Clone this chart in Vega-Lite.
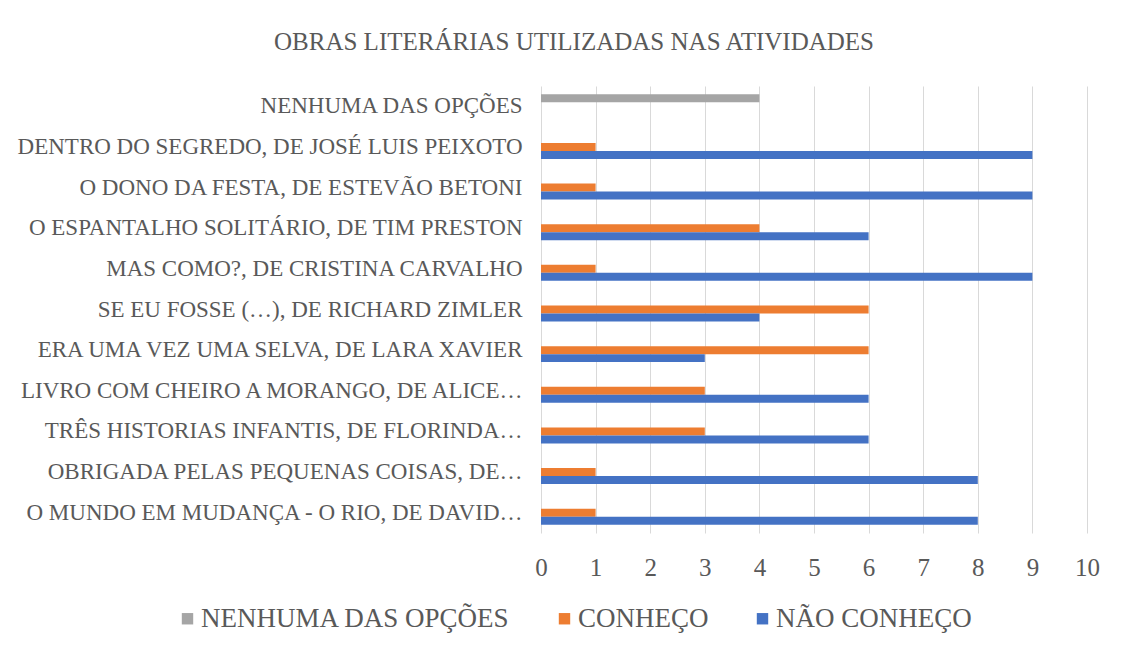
{
  "$schema": "https://vega.github.io/schema/vega-lite/v6.json",
  "width": 546,
  "height": 447,
  "autosize": {"type": "none"},
  "padding": {"left": 541, "top": 86, "right": 39, "bottom": 113},
  "background": "white",
  "title": {
    "text": "OBRAS LITERÁRIAS UTILIZADAS NAS ATIVIDADES",
    "font": "Liberation Serif",
    "fontSize": 25,
    "fontWeight": "normal",
    "color": "#595959",
    "anchor": "middle",
    "dx": -240,
    "offset": 31
  },
  "data": {
    "values": [
      {"obra": "NENHUMA DAS OPÇÕES", "serie": "NENHUMA DAS OPÇÕES", "valor": 4},
      {"obra": "DENTRO DO SEGREDO, DE JOSÉ LUIS PEIXOTO", "serie": "CONHEÇO", "valor": 1},
      {"obra": "DENTRO DO SEGREDO, DE JOSÉ LUIS PEIXOTO", "serie": "NÃO CONHEÇO", "valor": 9},
      {"obra": "O DONO DA FESTA, DE ESTEVÃO BETONI", "serie": "CONHEÇO", "valor": 1},
      {"obra": "O DONO DA FESTA, DE ESTEVÃO BETONI", "serie": "NÃO CONHEÇO", "valor": 9},
      {"obra": "O ESPANTALHO SOLITÁRIO, DE TIM PRESTON", "serie": "CONHEÇO", "valor": 4},
      {"obra": "O ESPANTALHO SOLITÁRIO, DE TIM PRESTON", "serie": "NÃO CONHEÇO", "valor": 6},
      {"obra": "MAS COMO?, DE CRISTINA CARVALHO", "serie": "CONHEÇO", "valor": 1},
      {"obra": "MAS COMO?, DE CRISTINA CARVALHO", "serie": "NÃO CONHEÇO", "valor": 9},
      {"obra": "SE EU FOSSE (…), DE RICHARD ZIMLER", "serie": "CONHEÇO", "valor": 6},
      {"obra": "SE EU FOSSE (…), DE RICHARD ZIMLER", "serie": "NÃO CONHEÇO", "valor": 4},
      {"obra": "ERA UMA VEZ UMA SELVA, DE LARA XAVIER", "serie": "CONHEÇO", "valor": 6},
      {"obra": "ERA UMA VEZ UMA SELVA, DE LARA XAVIER", "serie": "NÃO CONHEÇO", "valor": 3},
      {"obra": "LIVRO COM CHEIRO A MORANGO, DE ALICE…", "serie": "CONHEÇO", "valor": 3},
      {"obra": "LIVRO COM CHEIRO A MORANGO, DE ALICE…", "serie": "NÃO CONHEÇO", "valor": 6},
      {"obra": "TRÊS HISTORIAS INFANTIS, DE FLORINDA…", "serie": "CONHEÇO", "valor": 3},
      {"obra": "TRÊS HISTORIAS INFANTIS, DE FLORINDA…", "serie": "NÃO CONHEÇO", "valor": 6},
      {"obra": "OBRIGADA PELAS PEQUENAS COISAS, DE…", "serie": "CONHEÇO", "valor": 1},
      {"obra": "OBRIGADA PELAS PEQUENAS COISAS, DE…", "serie": "NÃO CONHEÇO", "valor": 8},
      {"obra": "O MUNDO EM MUDANÇA - O RIO, DE DAVID…", "serie": "CONHEÇO", "valor": 1},
      {"obra": "O MUNDO EM MUDANÇA - O RIO, DE DAVID…", "serie": "NÃO CONHEÇO", "valor": 8}
    ]
  },
  "mark": {"type": "bar"},
  "encoding": {
    "y": {
      "field": "obra",
      "type": "nominal",
      "sort": null,
      "scale": {"paddingInner": 0.41, "paddingOuter": 0.205},
      "axis": {
        "title": null,
        "domain": false,
        "ticks": false,
        "labelFont": "Liberation Serif",
        "labelFontSize": 23,
        "labelColor": "#595959",
        "labelPadding": 19,
        "labelLimit": 600
      }
    },
    "yOffset": {
      "field": "serie",
      "type": "nominal",
      "scale": {"domain": ["NENHUMA DAS OPÇÕES", "CONHEÇO", "NÃO CONHEÇO"], "paddingInner": 0, "paddingOuter": 0}
    },
    "x": {
      "field": "valor",
      "type": "quantitative",
      "scale": {"domain": [0, 10], "nice": false},
      "axis": {
        "title": null,
        "domain": false,
        "ticks": false,
        "values": [0, 1, 2, 3, 4, 5, 6, 7, 8, 9, 10],
        "labelOverlap": false,
        "labelFlush": false,
        "grid": true,
        "gridColor": "#D9D9D9",
        "labelFont": "Liberation Serif",
        "labelFontSize": 25,
        "labelColor": "#595959",
        "labelPadding": 22
      }
    },
    "color": {
      "field": "serie",
      "type": "nominal",
      "scale": {
        "domain": ["NENHUMA DAS OPÇÕES", "CONHEÇO", "NÃO CONHEÇO"],
        "range": ["#A5A5A5", "#ED7D31", "#4472C4"]
      },
      "legend": {
        "title": null,
        "orient": "none",
        "direction": "horizontal",
        "legendX": -367,
        "legendY": 519,
        "symbolType": "square",
        "symbolSize": 130,
        "symbolStrokeWidth": 0,
        "labelFont": "Liberation Serif",
        "labelFontSize": 27,
        "labelColor": "#595959",
        "labelOffset": 0,
        "columnPadding": 40,
        "labelLimit": 500
      }
    }
  },
  "config": {"view": {"stroke": null}}
}
